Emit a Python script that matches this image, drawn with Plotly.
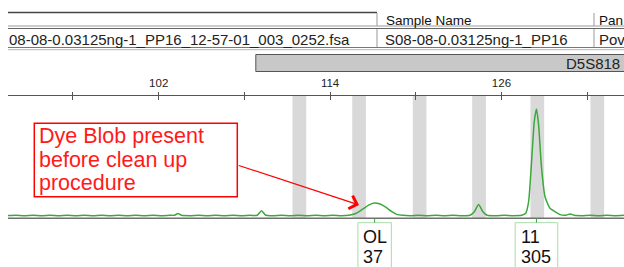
import plotly.graph_objects as go

W, H = 624, 267


def px(x):
    return x / W


def py(y):
    return 1 - y / H


# ---------------- data ----------------
trace_bp = [91.4, 92.0, 92.6, 93.2, 93.8, 94.4, 95.0, 95.6, 96.2, 96.8, 97.4, 98.0,
            98.6, 99.2, 99.8, 100.4, 101.0, 101.6, 102.2, 102.8, 103.1, 103.35, 103.6,
            104.2, 104.8, 105.4, 106.0, 106.6, 107.2, 107.8, 108.4, 108.9, 109.2, 109.5,
            110.0, 110.6, 111.2, 111.8, 112.4, 113.0, 113.6, 114.2, 114.8, 115.3, 115.8,
            116.3, 116.7, 117.1, 117.5, 117.9, 118.3, 118.7, 119.1, 119.6, 120.2, 120.8,
            121.4, 122.0, 122.6, 123.2, 123.8, 124.1, 124.4, 124.7, 125.0, 125.6, 126.2,
            126.8, 127.4, 127.7, 127.9, 128.1, 128.3, 128.45, 128.6, 128.8, 129.05, 129.4,
            129.8, 130.1, 130.5, 130.8, 131.1, 131.6, 132.2, 132.8, 133.4, 134.0, 134.6]
trace_rfu = [1, 2, 1, 2, 1, 2, 1, 2, 1, 2, 1, 2,
             1, 2, 1, 2, 1, 2, 1, 2, 2, 7, 2,
             1, 2, 1, 2, 1, 2, 1, 2, 2, 15, 2,
             1, 2, 1, 2, 1, 2, 1, 2, 1, 2, 7,
             20, 31, 37, 34, 25, 13, 4, 2, 1, 2, 1,
             2, 1, 2, 1, 2, 12, 33, 12, 2, 1, 2,
             1, 2, 8, 40, 150, 270, 305, 260, 140, 55, 22,
             11, 4, 2, 6, 2, 1, 2, 1, 2, 1, 2]

tick_vals = [96, 102, 108, 114, 120, 126, 132]
tick_text = ["", "102", "", "114", "", "126", ""]

bin_centers = [111.85, 116.03, 120.27, 124.43, 128.51, 132.71]

allele_names = ["OL", "11"]
allele_bp = [117.12, 128.45]
allele_rfu = [37, 305]

locus_name = "D5S818"
locus_start = 108.8

header_cells = ["Sample Name", "Pan"]
row_cells = ["08-08-0.03125ng-1_PP16_12-57-01_003_0252.fsa", "S08-08-0.03125ng-1_PP16", "Pov"]
note_lines = ["Dye Blob present", "before clean up", "procedure"]

# ---------------- figure ----------------
FONT = "Liberation Sans, Arial, sans-serif"
GREEN = "#3aa83a"
RED = "#ff1a1a"

fig = go.Figure()
fig.add_trace(go.Scatter(
    x=trace_bp, y=trace_rfu, mode="lines",
    line=dict(color=GREEN, width=1.5, shape="spline", smoothing=0.6),
    hoverinfo="skip", showlegend=False))
fig.add_trace(go.Scatter(
    x=[tick_vals[0]], y=[0], xaxis="x2", mode="markers",
    marker=dict(opacity=0), hoverinfo="skip", showlegend=False))

shapes = []
# bins (gray stripes)
for c in bin_centers:
    shapes.append(dict(type="rect", xref="x", yref="y domain", x0=c - 0.48, x1=c + 0.48,
                       y0=0, y1=1, fillcolor="#d9d9d9", line=dict(width=0), layer="below"))
# baseline axis line at bottom
shapes.append(dict(type="line", xref="paper", yref="paper", x0=px(8), x1=1,
                   y0=py(218.3), y1=py(218.3), line=dict(color="#707070", width=1.5)))

# table lines
shapes.append(dict(type="line", xref="paper", yref="paper", x0=px(8), x1=px(377),
                   y0=py(12.5), y1=py(12.5), line=dict(color="#444", width=1.6)))
for yy, col in [(26, "#9a9a9a"), (28.5, "#666"), (47.5, "#777"), (49.7, "#b5b5b5")]:
    shapes.append(dict(type="line", xref="paper", yref="paper", x0=px(8), x1=1,
                       y0=py(yy), y1=py(yy), line=dict(color=col, width=1)))
for xx in [377, 594]:
    for (a, b) in [(13, 26), (29, 47)]:
        shapes.append(dict(type="line", xref="paper", yref="paper", x0=px(xx), x1=px(xx),
                           y0=py(a), y1=py(b), line=dict(color="#999", width=1)))

# locus bar
shapes.append(dict(type="rect", xref="x", yref="paper", x0=locus_start, x1=140,
                   y0=py(71.5), y1=py(54.5), fillcolor="#c8c8c8",
                   line=dict(color="#555", width=1)))

# allele label boxes
half_w = [16.7, 21.3]
for bp, hw in zip(allele_bp, half_w):
    shapes.append(dict(type="rect", xref="x", xsizemode="pixel", xanchor=bp,
                       x0=-hw, x1=hw, yref="paper", y0=py(280), y1=py(222.7),
                       fillcolor="white", line=dict(color="#a8dca8", width=1)))
    shapes.append(dict(type="line", xref="x", x0=bp, x1=bp, yref="paper",
                       y0=py(218.5), y1=py(222.7), line=dict(color=GREEN, width=1)))

# note box
shapes.append(dict(type="rect", xref="paper", yref="paper", x0=px(34.3), x1=px(237.3),
                   y0=py(196.7), y1=py(123.3), line=dict(color="#ff0000", width=1.5)))

annotations = []
# table text
annotations.append(dict(xref="paper", yref="paper", x=px(384), y=py(21), text=header_cells[0],
                        showarrow=False, xanchor="left", yanchor="middle",
                        font=dict(family=FONT, size=13.5, color="#111")))
annotations.append(dict(xref="paper", yref="paper", x=px(597), y=py(21), text=header_cells[1],
                        showarrow=False, xanchor="left", yanchor="middle",
                        font=dict(family=FONT, size=13.5, color="#111")))
for xx, t in zip([7, 383, 597], row_cells):
    annotations.append(dict(xref="paper", yref="paper", x=px(xx), y=py(39), text=t,
                            showarrow=False, xanchor="left", yanchor="middle",
                            font=dict(family=FONT, size=15, color="#222")))
annotations.append(dict(xref="paper", yref="paper", x=px(622), y=py(63), text=locus_name,
                        showarrow=False, xanchor="right", yanchor="middle",
                        font=dict(family=FONT, size=15, color="#222")))

# allele labels
for name, bp, rfu, hw in zip(allele_names, allele_bp, allele_rfu, half_w):
    for t, yy in [(name, 237.0), (str(rfu), 257.2)]:
        annotations.append(dict(xref="x", yref="paper", x=bp, xshift=-hw + 4.5,
                                y=py(yy), text=t, showarrow=False, borderpad=0,
                                xanchor="left", yanchor="middle",
                                font=dict(family=FONT, size=18, color="#111")))

# note text
for t, yy in zip(note_lines, [135.5, 159.5, 183]):
    annotations.append(dict(xref="paper", yref="paper", x=px(37), y=py(yy), text=t,
                            showarrow=False, xanchor="left", yanchor="middle",
                            font=dict(family=FONT, size=21.5, color=RED)))

# arrow
annotations.append(dict(xref="paper", yref="paper", x=px(359), y=py(205), text="",
                        showarrow=True, ax=-121.7, ay=-40, arrowhead=4, arrowsize=2.2,
                        arrowwidth=1.2, arrowcolor="#ff0000"))

fig.update_layout(
    width=W, height=H,
    margin=dict(l=0, r=0, t=0, b=0),
    paper_bgcolor="white", plot_bgcolor="white",
    showlegend=False,
    xaxis=dict(domain=[px(8), 1], range=[91.45, 134.58], side="top", anchor="y",
               showline=True, linecolor="#555", linewidth=1,
               ticks="outside", ticklen=3, tickcolor="#555", tickwidth=1,
               tickvals=tick_vals, ticktext=tick_text,
               tickfont=dict(family=FONT, size=11.5, color="#222"),
               showgrid=False, zeroline=False, fixedrange=True),
    xaxis2=dict(overlaying="x", matches="x", side="top", anchor="y",
                showline=False, ticks="inside", ticklen=4, tickcolor="#555", tickwidth=1,
                tickvals=tick_vals, showticklabels=False,
                showgrid=False, zeroline=False),
    yaxis=dict(domain=[py(218), py(96)], range=[-5.7, 342], visible=False,
               fixedrange=True),
    shapes=shapes,
    annotations=annotations,
)

fig.write_html(
    "out.html",
    config={"displayModeBar": False},
    post_script="document.body.style.margin='0';document.body.style.overflow='hidden';",
)
